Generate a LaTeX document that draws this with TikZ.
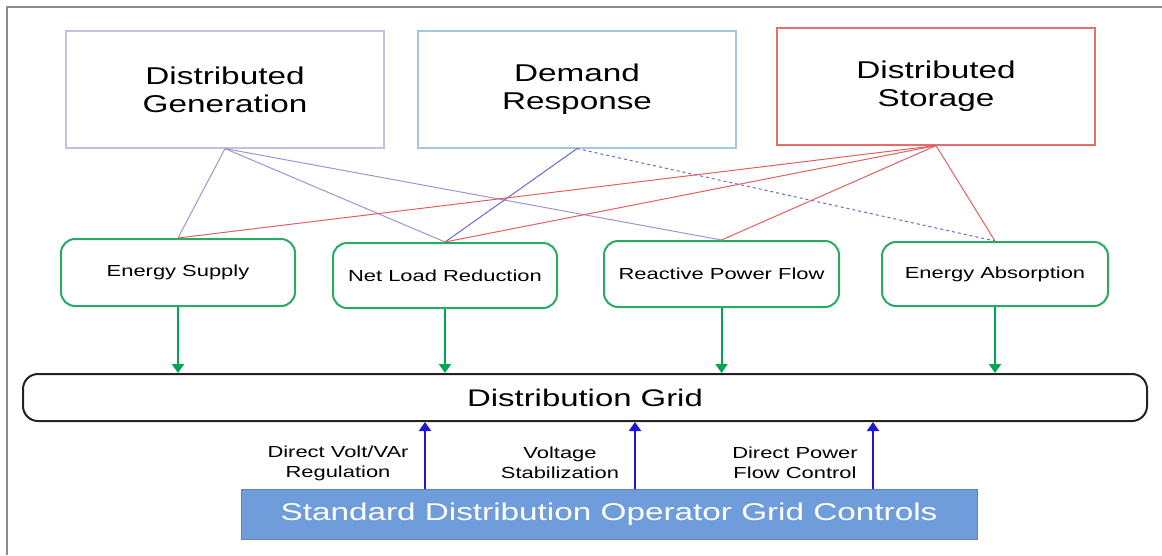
\documentclass[tikz,border=0pt]{standalone}
\usepackage{fontspec}
\setmainfont{Liberation Sans}[FakeStretch=1.37]
\usepackage{tikz}
\usetikzlibrary{arrows.meta,positioning}

\definecolor{framegray}{RGB}{140,140,140}
\definecolor{dgcol}{RGB}{200,190,225}
\definecolor{drcol}{RGB}{160,200,222}
\definecolor{dscol}{RGB}{226,110,110}
\definecolor{dgline}{RGB}{165,145,210}
\definecolor{drline}{RGB}{105,105,205}
\definecolor{dsline}{RGB}{226,95,95}
\definecolor{effgreen}{RGB}{40,170,100}
\definecolor{arrgreen}{RGB}{0,166,81}
\definecolor{arrblue}{RGB}{30,20,220}
\definecolor{gridcol}{RGB}{35,35,35}
\definecolor{sdofill}{RGB}{111,156,218}
\definecolor{sdoline}{RGB}{95,130,185}

\tikzset{
  srcbox/.style={draw,line width=1.2pt,minimum width=318pt,minimum height=117pt,
    inner sep=0pt,align=center,font=\fontsize{24.3}{28}\selectfont},
  effbox/.style={draw=effgreen,line width=2pt,rounded corners=14pt,inner sep=0pt,
    font=\fontsize{16}{20}\selectfont},
  ctrllabel/.style={align=center,inner sep=0pt,font=\fontsize{16}{20}\selectfont},
  dglink/.style={dgline,line width=1pt},
  drlink/.style={drline,line width=1pt},
  dslink/.style={dsline,line width=1pt},
  togrid/.style={arrgreen,line width=2pt,-{Triangle[length=9pt,width=12pt]}},
  fromsdo/.style={arrblue,line width=2pt,-{Triangle[length=9pt,width=12pt]}}
}

\begin{document}
\begin{tikzpicture}[x=1pt,y=-1pt]
\useasboundingbox (0,0) rectangle (1162,555);
\draw[framegray,line width=1.5pt] (7,555) -- (7,7) -- (1162,7);

% resources
\node[srcbox,draw=dgcol] (dg) at (225,89.5) {Distributed\\Generation};
\node[srcbox,draw=drcol] (dr) at (577,89.5) {Demand\\Response};
\node[srcbox,draw=dscol] (ds) at (936,86.5) {Distributed\\Storage};

% services
\node[effbox,minimum width=234pt,minimum height=67pt] (es) at (178,272.5) {Energy Supply};
\node[effbox,minimum width=224pt,minimum height=65pt] (nlr) at (445,275.5) {Net Load Reduction};
\node[effbox,minimum width=235pt,minimum height=66pt] (rpf) at (721.5,274) {Reactive Power Flow};
\node[effbox,minimum width=226pt,minimum height=64pt] (ea) at (995,274) {Energy Absorption};

% grid and operator
\node[draw=gridcol,line width=2pt,rounded corners=15pt,minimum width=1124pt,minimum height=47pt,
  inner sep=0pt,font=\fontsize{24}{28}\selectfont] (grid) at (585,397.5) {Distribution Grid};
\node[fill=sdofill,draw=sdoline,line width=1pt,minimum width=736pt,minimum height=50pt,
  inner sep=0pt,text=white,font=\fontsize{24.3}{28}\selectfont] (sdo) at (609,514)
  {Standard Distribution Operator Grid Controls};

% links
\draw[dglink] (dg.south) -- (es.north);
\draw[dglink] (dg.south) -- (nlr.north);
\draw[dglink] (dg.south) -- (rpf.north);
\draw[drlink] (dr.south) -- (nlr.north);
\draw[drlink,dashed] (dr.south) -- (ea.north);
\draw[dslink] (ds.south) -- (es.north);
\draw[dslink] (ds.south) -- (nlr.north);
\draw[dslink] (ds.south) -- (rpf.north);
\draw[dslink] (ds.south) -- (ea.north);

% into the grid
\foreach \n in {es,nlr,rpf,ea}
  \draw[togrid] (\n.south) -- (\n.south |- grid.north);

% controls
\coordinate (v1) at (425,489);
\coordinate (v2) at (635,489);
\coordinate (v3) at (873,489);
\foreach \n in {v1,v2,v3}
  \draw[fromsdo] (\n) -- (\n |- grid.south);
\node[ctrllabel] (lvolt) at (338,463) {Direct Volt/VAr\\Regulation};
\node[ctrllabel] (lstab) at (560,463) {Voltage\\Stabilization};
\node[ctrllabel] (lflow) at (795,463) {Direct Power\\Flow Control};
\end{tikzpicture}
\end{document}
